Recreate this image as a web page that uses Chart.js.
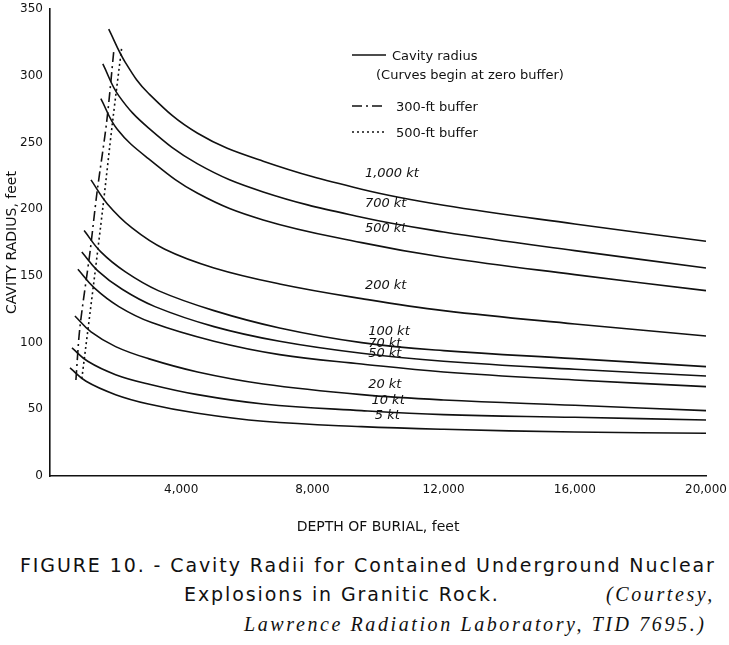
<!DOCTYPE html>
<html><head><meta charset="utf-8">
<script src="https://cdn.jsdelivr.net/npm/chart.js@4"></script>
<style>
body{margin:0;background:#fff;width:729px;height:645px;position:relative;overflow:hidden;font-family:"DejaVu Sans",sans-serif;color:#111}
#c{position:absolute;left:0;top:0}
.cap{position:absolute;white-space:nowrap;font-size:19px;letter-spacing:1.9px}
.it{font-family:"Liberation Serif",serif;font-style:italic;font-size:20px;letter-spacing:2.6px}
</style></head><body>
<canvas id="c" width="729" height="540"></canvas>
<div class="cap" style="left:20px;top:554px">FIGURE 10. - Cavity Radii for Contained Underground Nuclear</div>
<div class="cap" style="left:184px;top:583px">Explosions in Granitic Rock.</div>
<div class="cap it" style="left:606px;top:583px">(Courtesy,</div>
<div class="cap it" style="left:244px;top:613px">Lawrence Radiation Laboratory, TID 7695.)</div>
<script>
const yields = ["1,000 kt","700 kt","500 kt","200 kt","100 kt","70 kt","50 kt","20 kt","10 kt","5 kt"];
const c1000 = [[1790,335],[2300,310],[3000,287],[4500,257],[6500,236],[9500,215],[12000,203],[16000,189],[20000,176]];
const c700  = [[1610,309],[2100,285],[3000,261],[4500,234],[6500,213],[9500,194],[12000,183],[16000,169],[20000,156]];
const c500  = [[1550,283],[2050,260],[3000,238],[4500,212],[6500,192],[9500,175],[12000,164],[16000,151],[20000,139]];
const c200  = [[1250,222],[1750,204],[2500,186],[3500,170],[5000,156],[7000,144],[9500,133],[12000,124],[16000,114],[20000,105]];
const c100  = [[1040,184],[1550,168],[2300,153],[3300,139],[5000,124],[7000,111],[9500,100],[12000,94],[16000,88],[20000,82]];
const c70   = [[970,168],[1450,154],[2200,140],[3200,127],[5000,112],[7000,101],[9500,92],[12000,86],[16000,80],[20000,75]];
const c50   = [[850,155],[1350,141],[2100,127],[3100,115],[5000,101],[7000,91],[9500,84],[12000,78],[16000,72],[20000,67]];
const c20   = [[760,120],[1250,108],[2000,97],[3000,88],[4500,78],[6500,69],[9500,61],[12000,57],[16000,53],[20000,49]];
const c10   = [[670,96],[1150,86],[2000,76],[3000,69],[4500,61],[6500,54],[9500,49],[12000,46],[16000,44],[20000,42]];
const c5    = [[610,81],[1100,71],[2000,61],[3000,54],[4500,47],[6500,41],[9500,37],[12000,35],[16000,33],[20000,32]];
const buffer300 = [[790,72],[910,111],[1215,167],[1430,212],[1730,266],[1950,320]];
const buffer500 = [[970,73],[1370,152],[1610,201],[1910,266],[2190,322]];
const labelPos = [[9600,224],[9600,202],[9600,183],[9600,140],[9700,106],[9700,97],[9700,89],[9700,66],[9800,54],[9900,43]];
const xTicks = [4000,8000,12000,16000,20000];
const curves = [c1000,c700,c500,c200,c100,c70,c50,c20,c10,c5];
const pts = a => a.map(p=>({x:p[0],y:p[1]}));
const ds = curves.map(c=>({data:pts(c),borderColor:'#111',borderWidth:1.6,pointRadius:0,tension:0.4,fill:false}));
ds.push({data:pts(buffer300),borderColor:'#111',borderWidth:1.6,borderDash:[10,4,2,4],pointRadius:0,tension:0.3});
ds.push({data:pts(buffer500),borderColor:'#111',borderWidth:1.6,borderDash:[2,3],pointRadius:0,tension:0.3});
const deco = {id:'deco',afterDatasetsDraw(ch){
  const g=ch.ctx,xs=ch.scales.x,ys=ch.scales.y;
  g.save();g.fillStyle='#111';g.font='italic 13px "DejaVu Sans"';g.textBaseline='alphabetic';
  yields.forEach((t,i)=>{g.fillText(t,xs.getPixelForValue(labelPos[i][0]),ys.getPixelForValue(labelPos[i][1]));});
  g.font='13px "DejaVu Sans"';g.strokeStyle='#111';g.lineWidth=1.6;
  const L=(y,dash)=>{g.setLineDash(dash);g.beginPath();g.moveTo(352,y);g.lineTo(386,y);g.stroke();g.setLineDash([]);};
  L(55,[]);g.fillText('Cavity radius',392,60);g.fillText('(Curves begin at zero buffer)',376,79);
  L(106,[10,4,2,4]);g.fillText('300-ft buffer',396,111);
  L(132,[2,3]);g.fillText('500-ft buffer',396,137);
  g.restore();}};
new Chart(document.getElementById('c'),{type:'line',data:{datasets:ds},plugins:[deco],
options:{responsive:false,animation:false,layout:{padding:{top:8,right:21,left:0,bottom:0}},
plugins:{legend:{display:false},tooltip:{enabled:false}},
scales:{
x:{type:'linear',min:0,max:20000,afterBuildTicks:s=>{s.ticks=[0,...xTicks].map(v=>({value:v}));},
  afterFit:s=>{s.height=64;},
  grid:{display:false,drawTicks:true,tickLength:5,color:'#111'},border:{color:'#111',width:1.6},
  ticks:{color:'#111',font:{size:12,family:'DejaVu Sans'},maxRotation:0,padding:2,callback:v=>v===0?'':v.toLocaleString('en-US')},
  title:{display:true,text:'DEPTH OF BURIAL, feet',color:'#111',font:{size:14,family:'DejaVu Sans'},padding:{top:14}}},
y:{min:0,max:350,afterFit:s=>{s.width=50;},
  grid:{display:false,drawTicks:true,tickLength:5,color:'#111'},border:{color:'#111',width:1.6},
  ticks:{stepSize:50,color:'#111',font:{size:12,family:'DejaVu Sans'},padding:2},
  title:{display:true,text:'CAVITY RADIUS, feet',color:'#111',font:{size:14,family:'DejaVu Sans'},padding:{bottom:2}}}}}});
</script></body></html>
